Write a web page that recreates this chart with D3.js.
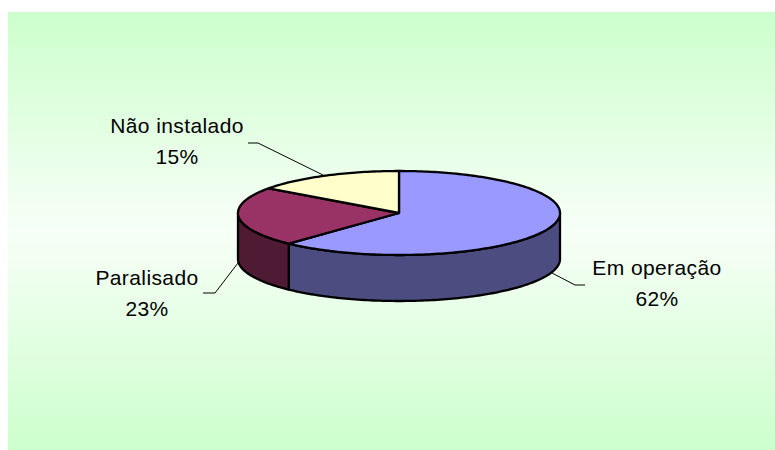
<!DOCTYPE html>
<html>
<head>
<meta charset="utf-8">
<script src="https://cdn.jsdelivr.net/npm/d3@7"></script>
<style>
  body { margin: 0; background: #fff; }
  text { font-family: "Liberation Sans", Arial, sans-serif; }
</style>
</head>
<body>
<div id="chart"></div>
<script>
// data
var categories = ["Em operação", "Paralisado", "Não instalado"];
var values = [62, 23, 15];
var percentLabels = ["62%", "23%", "15%"];

var topColors = ["#9999ff", "#993366", "#ffffcc"];
var sideColors = ["#4c4c80", "#4f1a33", "#808066"];

var width = 775, height = 450;

var svg = d3.select("#chart").append("svg")
  .attr("width", width)
  .attr("height", height);

// background with vertical gradient (green - white - green)
var defs = svg.append("defs");
var grad = defs.append("linearGradient")
  .attr("id", "bg").attr("x1", 0).attr("y1", 0).attr("x2", 0).attr("y2", 1);
grad.append("stop").attr("offset", "0%").attr("stop-color", "#ccffcc");
grad.append("stop").attr("offset", "50%").attr("stop-color", "#f7fff7");
grad.append("stop").attr("offset", "100%").attr("stop-color", "#ccffcc");

svg.append("rect")
  .attr("x", 8).attr("y", 12)
  .attr("width", width - 8).attr("height", height - 12)
  .attr("fill", "url(#bg)");

// pie geometry
var cx = 399, cy = 213, rx = 161, ry = 42, depth = 46;

var pie = d3.pie().sort(null).value(function(d) { return d; });
var arcs = pie(values);

function pt(a, dy) {
  return [cx + rx * Math.sin(a), cy - ry * Math.cos(a) + (dy || 0)];
}

function sample(a0, a1, dy) {
  var n = Math.max(2, Math.ceil(Math.abs(a1 - a0) / 0.02));
  var pts = [];
  for (var i = 0; i <= n; i++) pts.push(pt(a0 + (a1 - a0) * i / n, dy));
  return pts;
}

var line = d3.line();

// side walls (only the front half is visible)
var g = svg.append("g");
arcs.forEach(function(d, i) {
  var a0 = Math.max(d.startAngle, Math.PI / 2);
  var a1 = Math.min(d.endAngle, Math.PI * 1.5);
  if (a1 <= a0) return;
  var pts = sample(a0, a1, 0).concat(sample(a1, a0, depth));
  g.append("path")
    .attr("d", line(pts) + "Z")
    .attr("fill", sideColors[i])
    .attr("stroke", "#000")
    .attr("stroke-width", 2.3)
    .attr("stroke-linejoin", "round");
});

// top faces
arcs.forEach(function(d, i) {
  var pts = [[cx, cy]].concat(sample(d.startAngle, d.endAngle, 0));
  g.append("path")
    .attr("d", line(pts) + "Z")
    .attr("fill", topColors[i])
    .attr("stroke", "#000")
    .attr("stroke-width", 2.3)
    .attr("stroke-linejoin", "round");
});

// labels with leader lines
var labelPos = [
  { x: 657, y: 275, line: [[552, 273], [575, 285], [585, 285]] },
  { x: 147, y: 285, line: [[238, 263], [215, 293], [203, 293]] },
  { x: 177, y: 133, line: [[323, 175], [258, 143], [248, 143]] }
];

arcs.forEach(function(d, i) {
  var p = labelPos[i];
  svg.append("path")
    .attr("d", line(p.line))
    .attr("fill", "none")
    .attr("stroke", "#000")
    .attr("stroke-width", 1);
  var t = svg.append("text")
    .attr("text-anchor", "middle")
    .attr("font-size", 21)
    .attr("letter-spacing", 0.4)
    .attr("fill", "#000");
  t.append("tspan").attr("x", p.x).attr("y", p.y).text(categories[i]);
  t.append("tspan").attr("x", p.x).attr("y", p.y + 31).text(percentLabels[i]);
});
</script>
</body>
</html>
